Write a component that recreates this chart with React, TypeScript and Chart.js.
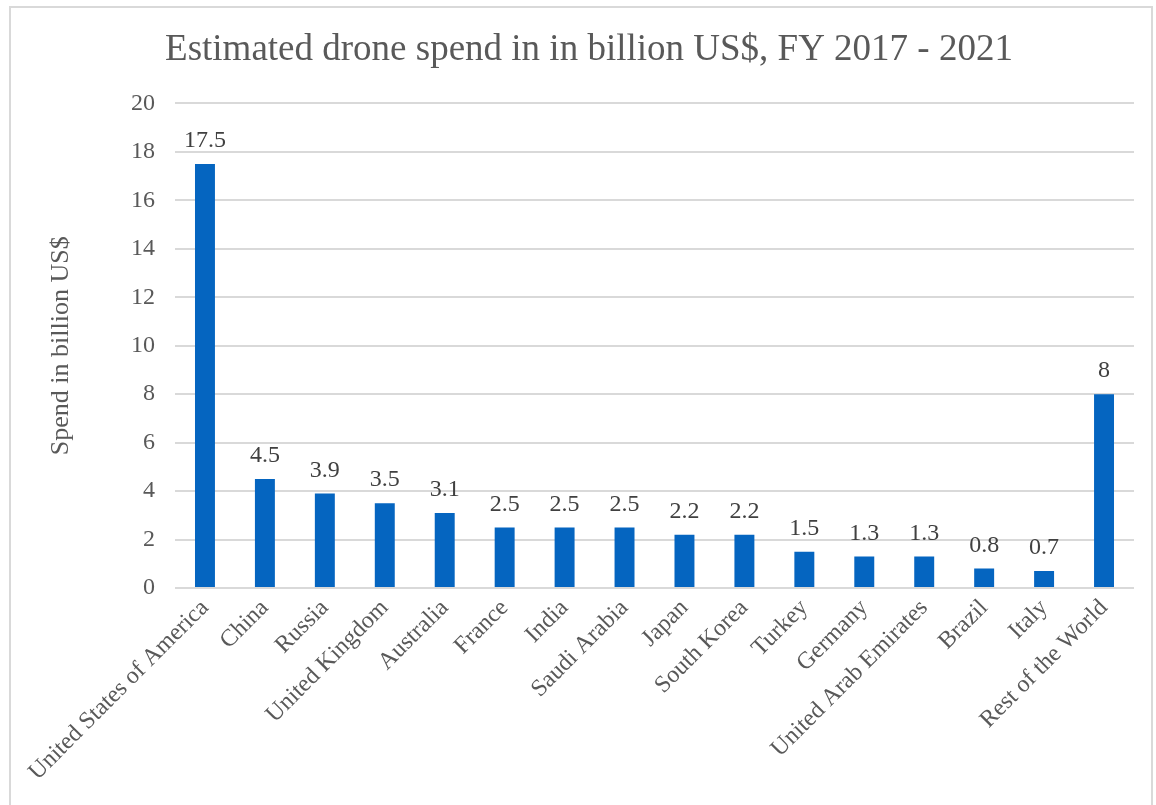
import React, { useEffect, useRef } from "react";
import { Chart, registerables } from "chart.js";

Chart.register(...registerables);

const categories = [
  "United States of America",
  "China",
  "Russia",
  "United Kingdom",
  "Australia",
  "France",
  "India",
  "Saudi Arabia",
  "Japan",
  "South Korea",
  "Turkey",
  "Germany",
  "United Arab Emirates",
  "Brazil",
  "Italy",
  "Rest of the World",
];
const spend = [17.5, 4.5, 3.9, 3.5, 3.1, 2.5, 2.5, 2.5, 2.2, 2.2, 1.5, 1.3, 1.3, 0.8, 0.7, 8];
const titleText = "Estimated drone spend in in billion US$, FY 2017 - 2021";
const yAxisTitle = "Spend in billion US$";

const FONT = "'Liberation Serif', 'Times New Roman', serif";

const dataLabels = {
  id: "dataLabels",
  afterDatasetsDraw(chart: any) {
    const ctx = chart.ctx;
    const meta = chart.getDatasetMeta(0);
    const ds = chart.data.datasets[0];
    ctx.save();
    ctx.font = `24px ${FONT}`;
    ctx.fillStyle = "#404040";
    ctx.textAlign = "center";
    ctx.textBaseline = "bottom";
    meta.data.forEach((bar: any, i: number) => {
      ctx.fillText(String(ds.data[i]), bar.x, bar.y - 11);
    });
    ctx.restore();
  },
};

export default function App() {
  const ref = useRef<HTMLCanvasElement | null>(null);
  useEffect(() => {
    if (!ref.current) return;
    const chart = new Chart(ref.current, {
      type: "bar",
      data: {
        labels: categories,
        datasets: [
          {
            data: spend,
            backgroundColor: "#0565c0",
            barPercentage: 0.333,
            categoryPercentage: 1,
          },
        ],
      },
      options: {
        responsive: false,
        animation: false,
        layout: { padding: { left: 44, right: 22, top: 0, bottom: 0 } },
        plugins: {
          legend: { display: false },
          tooltip: { enabled: false },
          title: {
            display: true,
            text: titleText,
            color: "#595959",
            font: { family: FONT, size: 37, weight: "normal" },
            padding: { top: 28, bottom: 31 },
          },
        },
        scales: {
          x: {
            grid: { display: false, drawTicks: false },
            border: { display: false },
            ticks: {
              color: "#595959",
              font: { family: FONT, size: 24 },
              minRotation: 45,
              maxRotation: 45,
              padding: 6,
              autoSkip: false,
            },
            afterFit(scale: any) {
              scale.height = 217;
              scale.paddingLeft = 0;
              scale.paddingRight = 0;
            },
          },
          y: {
            min: 0,
            max: 20,
            ticks: {
              stepSize: 2,
              color: "#595959",
              font: { family: FONT, size: 24 },
              padding: 20,
            },
            grid: { color: "#d9d9d9", lineWidth: 2, drawTicks: false },
            border: { display: false },
            title: {
              display: true,
              text: yAxisTitle,
              color: "#595959",
              font: { family: FONT, size: 26 },
              padding: { top: 2, bottom: 4 },
            },
            afterFit(scale: any) {
              scale.width = 175 - 44;
              scale.paddingTop = 0;
              scale.paddingBottom = 0;
            },
          },
        },
      },
      plugins: [dataLabels],
    });
    return () => chart.destroy();
  }, []);

  return (
    <div
      style={{
        position: "fixed",
        left: 0,
        top: 0,
        width: 1156,
        height: 805,
        overflow: "hidden",
        background: "#ffffff",
      }}
    >
      <div
        style={{
          position: "absolute",
          left: 9,
          top: 6,
          width: 1144,
          height: 840,
          border: "2px solid #d9d9d9",
          boxSizing: "border-box",
        }}
      />
      <canvas
        ref={ref}
        width={1156}
        height={805}
        style={{ position: "absolute", left: 0, top: 0, width: 1156, height: 805 }}
      />
    </div>
  );
}
